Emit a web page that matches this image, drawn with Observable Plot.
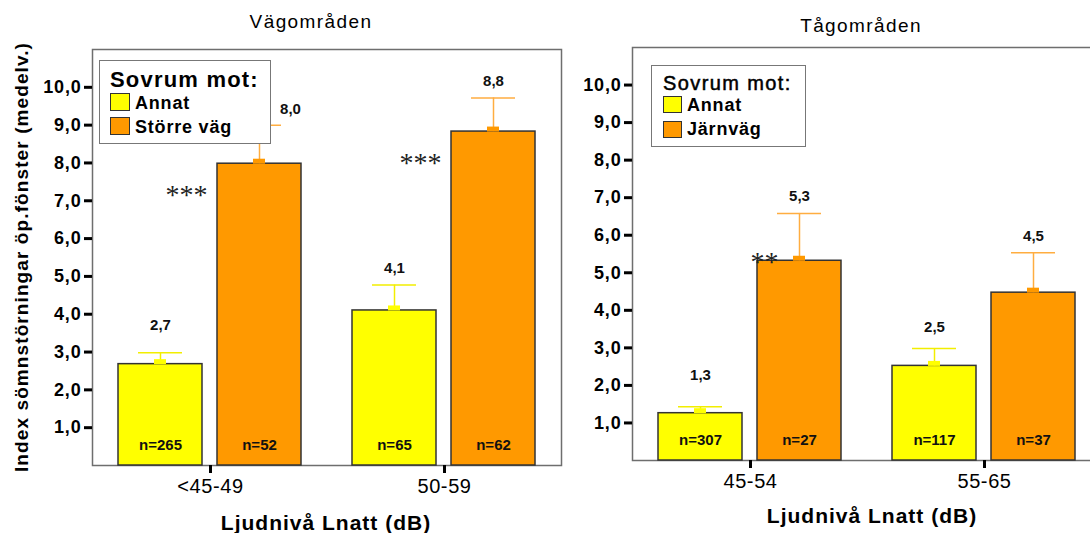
<!DOCTYPE html>
<html>
<head>
<meta charset="utf-8">
<script src="https://cdn.jsdelivr.net/npm/d3@7"></script>
<script src="https://cdn.jsdelivr.net/npm/@observablehq/plot@0.6"></script>
<style>
html, body { margin: 0; padding: 0; background: #fff; overflow: hidden; }
#chart { position: relative; width: 1090px; height: 533px; overflow: hidden; background: #fff;
  font-family: "Liberation Sans", Arial, sans-serif; color: #000; }
.layer { position: absolute; top: 0; height: 533px; }
.layer svg { position: absolute; left: 0; top: 0; display: block; }
.txt { position: absolute; white-space: nowrap; line-height: 1; }
.ctr { transform: translate(-50%, -50%); }
.lft { transform: translateY(-50%); }
.legend { position: absolute; box-sizing: border-box; border: 1.5px solid #777; background: #fff; }
.sw { position: absolute; box-sizing: border-box; border: 1.5px solid #333; }
g[aria-label="y-axis tick label"] text { letter-spacing: 0.8px; }
g[aria-label="fx-axis tick label"] text { letter-spacing: 0.6px; }
g[aria-label="n-label"] text { letter-spacing: 0.6px; }
g[aria-label="mean-label"] text { letter-spacing: 0.6px; }
</style>
</head>
<body>
<div id="chart">
  <div id="road" class="layer" style="left:0px;width:600px"></div>
  <div id="rail" class="layer" style="left:600px;width:501px"></div>
</div>
<script>
// ---------- data ----------
const yTicks = [1, 2, 3, 4, 5, 6, 7, 8, 9, 10];

// Vägområden
const roadGroups = ["<45-49", "50-59"];
const roadSeries = ["Annat", "Större väg"];
const roadAnnatMean = [2.68, 4.10];
const roadAnnatUpper = [2.98, 4.77];
const roadAnnatN = [265, 65];
const roadVagMean = [7.98, 8.83];
const roadVagUpper = [9.00, 9.72];
const roadVagN = [52, 62];
const roadVagSig = ["***", "***"];

// Tågområden
const railGroups = ["45-54", "55-65"];
const railSeries = ["Annat", "Järnväg"];
const railAnnatMean = [1.26, 2.52];
const railAnnatUpper = [1.43, 2.98];
const railAnnatN = [307, 117];
const railJvMean = [5.32, 4.47];
const railJvUpper = [6.58, 5.53];
const railJvN = [27, 37];
const railJvSig = ["**", ""];

// ---------- helpers ----------
const YELLOW = "#ffff00", ORANGE = "#ff9900";
const ERR_YELLOW = "#f2ee00", ERR_ORANGE = "#ffad40";
const fmt = v => v.toFixed(1).replace(".", ",");

function buildRows(groups, series, means, uppers, ns, sigs) {
  return groups.flatMap((g, i) => series.map((s, j) => ({
    group: g, series: s, j,
    mean: means[j][i], upper: uppers[j][i], n: ns[j][i], sig: sigs[j] ? sigs[j][i] : ""
  })));
}

const roadRows = buildRows(roadGroups, roadSeries,
  [roadAnnatMean, roadVagMean], [roadAnnatUpper, roadVagUpper], [roadAnnatN, roadVagN], [null, roadVagSig]);
const railRows = buildRows(railGroups, railSeries,
  [railAnnatMean, railJvMean], [railAnnatUpper, railJvUpper], [railAnnatN, railJvN], [null, railJvSig]);

function drawPanel(cfg) {
  const {el, width, mL, mR, mT, mB, groups, series, rows, sigDx, sigDy, isShifted} = cfg;
  const fills = [YELLOW, ORANGE], errs = [ERR_YELLOW, ERR_ORANGE];
  const common = {
    width, height: 533, marginLeft: mL, marginRight: mR, marginTop: mT, marginBottom: mB,
    style: {background: "transparent", color: "#000", overflow: "visible",
            fontFamily: "'Liberation Sans', Arial, sans-serif"},
    y: {domain: [0, 11], axis: null}
  };
  const base = Plot.plot({
    ...common,
    marks: [
      Plot.frame({stroke: "#6e6e6e", strokeWidth: 1.5}),
      Plot.axisY({ticks: yTicks, tickFormat: fmt, tickSize: 8, tickPadding: 3, strokeWidth: 3,
                  fontSize: 18, fontWeight: "bold", label: null})
    ]
  });
  const perSeries = series.flatMap((s, j) => {
    const sub = rows.filter(r => r.series === s);
    return [
      Plot.barY(sub, {fx: "group", x: "series", y: "mean", fill: fills[j], stroke: "#333", strokeWidth: 1.5}),
      Plot.ruleX(sub, {fx: "group", x: "series", y1: "mean", y2: "upper", stroke: errs[j], strokeWidth: 1.5}),
      Plot.tickY(sub, {fx: "group", x: "series", y: "upper", stroke: errs[j], strokeWidth: 1.5,
                       insetLeft: 20, insetRight: 20}),
      Plot.tickY(sub, {fx: "group", x: "series", y: "mean", dy: -2.5, stroke: fills[j], strokeWidth: 5,
                       insetLeft: 36, insetRight: 36})
    ];
  });
  const bars = Plot.plot({
    ...common,
    fx: {domain: groups, paddingInner: 0, paddingOuter: 0, label: null},
    x: {domain: series, paddingInner: 0.151, paddingOuter: 0.251, axis: null},
    marks: [
      ...perSeries,
      Plot.text(rows.filter(r => !isShifted(r)), {fx: "group", x: "series",
        y: r => Math.max(r.mean + 1.02, r.upper + 0.45), text: r => fmt(r.mean),
        fontSize: 15, fontWeight: "bold", fill: "#111", ariaLabel: "mean-label"}),
      Plot.text(rows.filter(isShifted), {fx: "group", x: "series",
        y: r => r.upper + 0.42, dx: 31, text: r => fmt(r.mean),
        fontSize: 15, fontWeight: "bold", fill: "#111", ariaLabel: "mean-label"}),
      Plot.text(rows, {fx: "group", x: "series", y: 0, dy: -20, text: r => "n=" + r.n,
        fontSize: 15, fontWeight: "bold", fill: "#111", ariaLabel: "n-label"}),
      Plot.text(rows.filter(r => r.sig), {fx: "group", x: "series", y: "mean", text: "sig",
        dx: sigDx, dy: sigDy, fontSize: 28, fontFamily: "'Liberation Serif', serif", fill: "#222",
        ariaLabel: "sig"}),
      Plot.axisFx({anchor: "bottom", tickSize: 8, strokeWidth: 3, tickPadding: 5, fontSize: 20, label: null})
    ]
  });
  el.appendChild(base);
  el.appendChild(bars);
}

drawPanel({
  el: document.getElementById("road"), width: 600, mL: 92, mR: 39, mT: 49, mB: 68,
  groups: roadGroups, series: roadSeries, rows: roadRows, sigDx: -73, sigDy: 31,
  isShifted: r => r.group === roadGroups[0] && r.series === roadSeries[1]
});
drawPanel({
  el: document.getElementById("rail"), width: 501, mL: 32, mR: 0, mT: 47, mB: 73,
  groups: railGroups, series: railSeries, rows: railRows, sigDx: -35, sigDy: 1,
  isShifted: r => false
});

// ---------- titles, axis titles, legends (HTML text) ----------
const chart = document.getElementById("chart");
function addText(text, x, y, cls, style) {
  const d = document.createElement("div");
  d.className = "txt " + cls;
  d.textContent = text;
  d.style.left = x + "px";
  d.style.top = y + "px";
  Object.assign(d.style, style || {});
  chart.appendChild(d);
  return d;
}
function addBox(cls, x, y, w, h, bg) {
  const d = document.createElement("div");
  d.className = cls;
  Object.assign(d.style, {left: x + "px", top: y + "px", width: w + "px", height: h + "px"});
  if (bg) d.style.background = bg;
  chart.appendChild(d);
  return d;
}

addText("Vägområden", 311, 21, "ctr", {fontSize: "19px", letterSpacing: "1.4px"});
addText("Tågområden", 861, 25, "ctr", {fontSize: "19px", letterSpacing: "1.4px"});

addText("Index sömnstörningar öp.fönster (medelv.)", 21, 257, "", {
  fontSize: "19px", fontWeight: "bold", letterSpacing: "1.1px",
  transform: "translate(-50%, -50%) rotate(-90deg)"});

addText("Ljudnivå Lnatt (dB)", 326, 522, "ctr", {fontSize: "21px", fontWeight: "bold", letterSpacing: "1px"});
addText("Ljudnivå Lnatt (dB)", 872, 515, "ctr", {fontSize: "21px", fontWeight: "bold", letterSpacing: "1px"});

// legend: Vägområden
addBox("legend", 99, 60, 172, 84);
addText("Sovrum mot:", 110, 80, "lft", {fontSize: "22px", fontWeight: "bold", letterSpacing: "1.2px"});
addBox("sw", 110, 93, 20, 18, YELLOW);
addBox("sw", 110, 117, 20, 18, ORANGE);
addText(roadSeries[0], 135, 103, "lft", {fontSize: "18px", fontWeight: "bold", letterSpacing: "0.8px"});
addText(roadSeries[1], 135, 127, "lft", {fontSize: "18px", fontWeight: "bold", letterSpacing: "0.8px"});

// legend: Tågområden
addBox("legend", 651, 65, 155, 82);
addText("Sovrum mot:", 663, 83, "lft", {fontSize: "20px", letterSpacing: "1.4px",
  webkitTextStroke: "0.5px #000"});
addBox("sw", 663, 96, 19, 17, YELLOW);
addBox("sw", 663, 121, 19, 17, ORANGE);
addText(railSeries[0], 687, 105, "lft", {fontSize: "18px", fontWeight: "bold", letterSpacing: "0.8px"});
addText(railSeries[1], 687, 129, "lft", {fontSize: "18px", fontWeight: "bold", letterSpacing: "0.8px"});
</script>
</body>
</html>
